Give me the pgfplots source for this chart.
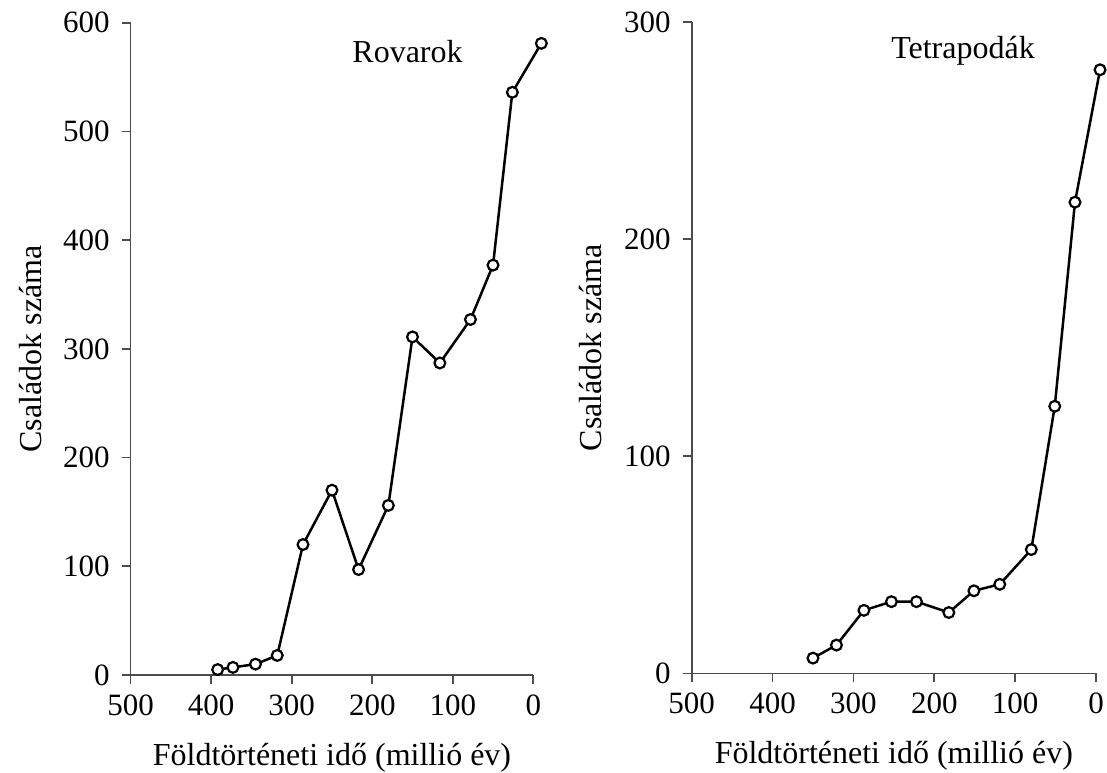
\documentclass[border=0pt]{standalone}
\usepackage{fontspec}
\setmainfont{Liberation Serif}
\usepackage{pgfplots}
\usepackage{pgfplotstable}
\pgfplotsset{compat=1.18}

\pgfplotstableread{
x y
392 5
373 7
345 10
318 18
286 120
250 170
217 97
180 156
150 311
116 287
78 327
50 377
26 536
-10 581
}\rovar

\pgfplotstableread{
x y
350 7
321 13
287 29
253 33
222 33
182 28
151 38
119 41
80 57
51 123
26 217
-5 278
}\tetra

\pgfplotsset{
  myax/.style={
    scale only axis,
    axis x line*=bottom, axis y line*=left,
    x dir=reverse, xmin=0, xmax=500, xtick={0,100,...,500},
    ymin=0,
    tick align=outside, major tick length=4.5pt,
    axis line style={draw=black!70, line width=0.8pt},
    every tick/.style={draw=black!70, line width=0.8pt},
    xticklabel style={font=\fontsize{15.5}{18}\selectfont, yshift=-2pt},
    yticklabel style={font=\fontsize{15.5}{18}\selectfont, xshift=-2.5pt},
    label style={font=\fontsize{16}{19}\selectfont},
    /pgf/number format/assume math mode=true,
    clip=false,
    xlabel={Földtörténeti idő (millió év)},
    ylabel={Családok száma},
    xlabel style={at={(axis description cs:0.5,-0.139)}, anchor=base},
    ylabel style={at={(axis description cs:-0.222,0.5)}, anchor=base},
  },
  myplot/.style={black, line width=1.25pt, mark=*, mark size=2.7pt,
    mark options={fill=white, draw=black, line width=1.1pt}},
}

\begin{document}
\begin{tikzpicture}
\path[use as bounding box] (0pt,0pt) rectangle (553.5pt,386pt);
\begin{axis}[myax, at={(65.35pt,48.5pt)}, anchor=south west,
  width=201.3pt, height=326.15pt, ymax=600, ytick={0,100,...,600}]
\addplot[myplot] table[x=x,y=y] {\rovar};
\node[anchor=base east, font=\fontsize{16}{19}\selectfont] at (axis cs:79,563) {Rovarok};
\end{axis}
\begin{axis}[myax, at={(345.85pt,49.35pt)}, anchor=south west,
  width=202.15pt, height=325.65pt, ymax=300, ytick={0,100,200,300}]
\addplot[myplot] table[x=x,y=y] {\tetra};
\node[anchor=base east, font=\fontsize{16}{19}\selectfont] at (axis cs:67,283.4) {Tetrapodák};
\end{axis}
\end{tikzpicture}
\end{document}
